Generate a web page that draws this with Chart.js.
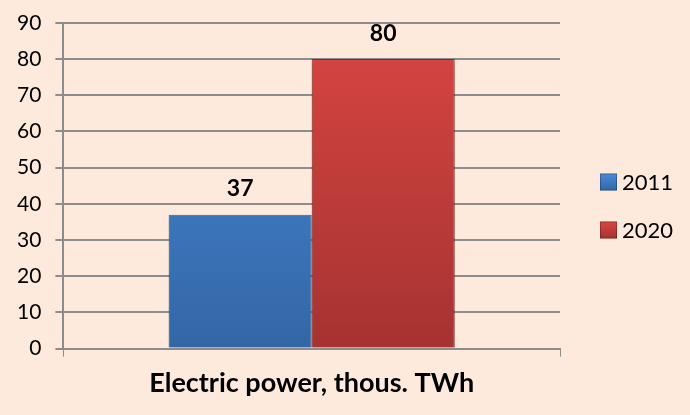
<!DOCTYPE html>
<html>
<head>
<meta charset="utf-8">
<script src="https://cdn.jsdelivr.net/npm/chart.js@4"></script>
<style>
  html, body { margin: 0; padding: 0; background: #FDEADC; }
  #wrap { width: 690px; height: 415px; }
</style>
</head>
<body>
<div id="wrap"><canvas id="powerChart"></canvas></div>
<script>
// Data
const categories = ['Electric power, thous. TWh'];
const years = ['2011', '2020'];
const values2011 = [37];
const values2020 = [80];
const yTicks = [0, 10, 20, 30, 40, 50, 60, 70, 80, 90];

const FONT = 'Lato, "Open Sans", sans-serif';
const topColors = ['#4A8AD9', '#D84542'];
const bottomColors = ['#3366A6', '#A53331'];

// vertical gradient for the bars (lighter top, darker bottom)
function barGradient(ctx, top, bottom) {
    const chart = ctx.chart;
    const area = chart.chartArea;
    if (!area) return bottom;
    const g = chart.ctx.createLinearGradient(0, area.top, 0, area.bottom);
    g.addColorStop(0, top);
    g.addColorStop(1, bottom);
    return g;
}

// values above the bars
const valueLabels = {
    id: 'valueLabels',
    afterDatasetsDraw(chart) {
        const ctx = chart.ctx;
        ctx.save();
        ctx.font = 'bold 23px ' + FONT;
        ctx.fillStyle = '#000';
        ctx.textAlign = 'center';
        ctx.textBaseline = 'middle';
        chart.data.datasets.forEach((ds, i) => {
            chart.getDatasetMeta(i).data.forEach((bar, j) => {
                ctx.fillText(ds.data[j], bar.x, bar.y - 26);
            });
        });
        ctx.restore();
    }
};

// soft shadow under bars
const barShadow = {
    id: 'barShadow',
    beforeDatasetsDraw(chart) {
        const ctx = chart.ctx;
        ctx.save();
        ctx.shadowColor = 'rgba(0,0,0,0.3)';
        ctx.shadowBlur = 5;
        ctx.shadowOffsetY = 3;
    },
    afterDatasetsDraw(chart) {
        chart.ctx.restore();
    }
};

// legend on the right, drawn by hand so it sits where the original has it
const sideLegend = {
    id: 'sideLegend',
    afterDraw(chart) {
        const ctx = chart.ctx;
        const x = chart.chartArea.right + 40;
        const mid = chart.height / 2;
        ctx.save();
        ctx.font = '22px ' + FONT;
        ctx.textBaseline = 'middle';
        ctx.textAlign = 'left';
        chart.data.datasets.forEach((ds, i) => {
            const y = mid - 26 + i * 48;
            const g = ctx.createLinearGradient(0, y - 8, 0, y + 9);
            g.addColorStop(0, topColors[i]);
            g.addColorStop(1, bottomColors[i]);
            ctx.fillStyle = g;
            ctx.fillRect(x, y - 8, 17, 17);
            ctx.strokeStyle = 'rgba(0,0,0,0.25)';
            ctx.lineWidth = 1;
            ctx.strokeRect(x + 0.5, y - 7.5, 16, 16);
            ctx.fillStyle = '#000';
            ctx.fillText(ds.label, x + 22, y + 1);
        });
        ctx.restore();
    }
};

const ctx = document.getElementById('powerChart').getContext('2d');
new Chart(ctx, {
    type: 'bar',
    data: {
        labels: categories,
        datasets: [{
            label: years[0],
            data: values2011,
            backgroundColor: c => barGradient(c, topColors[0], bottomColors[0]),
            borderColor: '#2F5F99',
            borderWidth: 1,
            categoryPercentage: 0.576,
            barPercentage: 1.0
        }, {
            label: years[1],
            data: values2020,
            backgroundColor: c => barGradient(c, topColors[1], bottomColors[1]),
            borderColor: '#8E2A28',
            borderWidth: 1,
            categoryPercentage: 0.576,
            barPercentage: 1.0
        }]
    },
    options: {
        responsive: true,
        maintainAspectRatio: false,
        animation: false,
        layout: { padding: { top: 0, right: 130, left: 3, bottom: 6 } },
        plugins: {
            legend: { display: false },
            tooltip: { enabled: false }
        },
        scales: {
            x: {
                grid: {
                    offset: true,
                    drawOnChartArea: false,
                    color: '#8C8C8C',
                    tickLength: 8
                },
                border: { color: '#8C8C8C', width: 2 },
                ticks: {
                    color: '#000',
                    padding: 10,
                    font: { family: FONT, size: 27, weight: 'bold' }
                }
            },
            y: {
                min: 0,
                max: 90,
                afterBuildTicks: axis => { axis.ticks = yTicks.map(v => ({ value: v })); },
                grid: { color: '#8C8C8C', lineWidth: 2, tickLength: 8 },
                border: { color: '#8C8C8C', width: 2 },
                ticks: {
                    color: '#000',
                    padding: 14,
                    font: { family: FONT, size: 21, lineHeight: 0.85 }
                }
            }
        }
    },
    plugins: [barShadow, valueLabels, sideLegend]
});
</script>
</body>
</html>
